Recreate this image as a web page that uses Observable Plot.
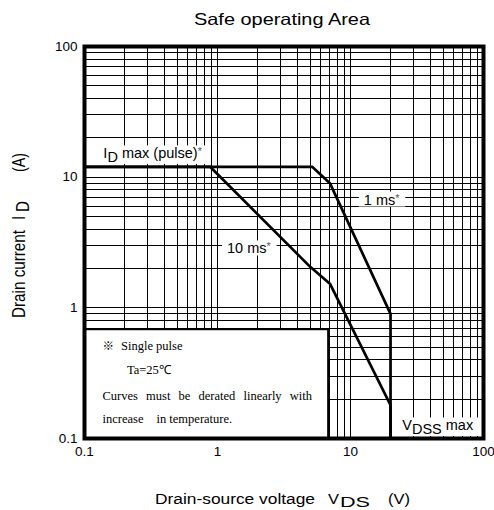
<!DOCTYPE html>
<html><head><meta charset="utf-8">
<script src="https://cdn.jsdelivr.net/npm/d3@7"></script>
<script src="https://cdn.jsdelivr.net/npm/@observablehq/plot@0.6"></script>
<style>body{margin:0;background:#fff} svg{display:block}</style>
</head><body><div id="chart"></div>
<script>
// ---- data ----
const gridDecades = [0.1, 1, 10];
const gridMultipliers = [1, 2, 3, 4, 5, 6, 7, 8, 9];
const tickValues = [0.1, 1, 10, 100];
const tickLabels = ["0.1", "1", "10", "100"];

// 1 ms curve (V, A)
const vds1ms = [0.1, 5.15, 7.0, 20, 20];
const id1ms = [12, 12, 9.0, 0.9, 0.1];
// 10 ms curve (V, A)
const vds10ms = [0.1, 0.88, 5.0, 7.0, 20, 20];
const id10ms = [12, 12, 2.05, 1.53, 0.18, 0.1];

// annotations (data coordinates)
const labelVds = [0.1386, 1.18, 12.6, 24.5];
const labelId = [15.1, 2.83, 6.70, 0.125];
const labelParts = [
  [["I"], ["D", "sub"], [" max (pulse)"], ["*", "ast"]],
  [["10 ms"], ["*", "ast"]],
  [["1 ms"], ["*", "ast"]],
  [["V"], ["DSS", "sub"], [" max"]]
];
const noteBox = [{x1: 0.1, x2: 6.85, y1: 0.1, y2: 0.68}];

// ---- build tables ----
const gridValues = gridDecades.flatMap(d => gridMultipliers.map(m => +(d * m).toPrecision(3)));
const series1ms = vds1ms.map((v, i) => ({vds: v, id: id1ms[i]}));
const series10ms = vds10ms.map((v, i) => ({vds: v, id: id10ms[i]}));
const labels = labelParts.map((p, i) => ({vds: labelVds[i], id: labelId[i], text: p.map(q => q[0]).join("")}));

const sans = "'Liberation Sans', Arial, Helvetica, sans-serif";
const serif = "'Liberation Serif', 'Times New Roman', serif";

const plot = Plot.plot({
  width: 494, height: 510,
  marginLeft: 84, marginRight: 11, marginTop: 46, marginBottom: 72,
  x: {type: "log", domain: [0.1, 100]},
  y: {type: "log", domain: [0.1, 100]},
  style: {fontFamily: sans, fontSize: "13.5px", background: "white", color: "black"},
  marks: [
    Plot.ruleX(gridValues, {stroke: "#000", strokeWidth: 1, shapeRendering: "crispEdges"}),
    Plot.ruleY(gridValues, {stroke: "#000", strokeWidth: 1, shapeRendering: "crispEdges"}),
    Plot.rect(noteBox, {x1: "x1", x2: "x2", y1: "y1", y2: "y2", fill: "white", stroke: "black", strokeWidth: 2}),
    Plot.line(series1ms, {x: "vds", y: "id", stroke: "black", strokeWidth: 2.7, strokeLinejoin: "miter"}),
    Plot.line(series10ms, {x: "vds", y: "id", stroke: "black", strokeWidth: 2.7, strokeLinejoin: "miter"}),
    Plot.text(labels, {x: "vds", y: "id", text: "text", textAnchor: "start", fontSize: 14.5, fill: "black", className: "sl-label"}),
    Plot.frame({stroke: "black", strokeWidth: 4}),
    Plot.axisX(tickValues, {tickSize: 0, tickPadding: 8, tickFormat: d => tickLabels[tickValues.indexOf(d)], label: null, fontSize: 13.5}),
    Plot.axisY(tickValues, {tickSize: 0, tickPadding: 7, tickFormat: d => tickLabels[tickValues.indexOf(d)], label: null, fontSize: 13.5})
  ]
});
document.getElementById("chart").append(plot);

const svg = d3.select(plot);
const xs = plot.scale("x"), ys = plot.scale("y");

// labels: subscripts, asterisks, white backgrounds
svg.selectAll("g.sl-label text").each(function(_, i) {
  const parts = labelParts[i];
  const t = d3.select(this);
  t.text(null);
  let shift = 0;
  parts.forEach(([s, kind]) => {
    const ts = t.append("tspan").text(s);
    const target = kind === "sub" ? 3.5 : kind === "ast" ? -3 : 0;
    if (target !== shift) { ts.attr("dy", target - shift); shift = target; }
    if (kind === "ast") ts.attr("font-size", "0.75em").attr("fill", "#555");
  });
});
svg.selectAll("g.sl-label text").each(function() {
  const b = this.getBBox();
  const r = document.createElementNS("http://www.w3.org/2000/svg", "rect");
  r.setAttribute("x", b.x - 5);
  r.setAttribute("y", b.y);
  r.setAttribute("width", b.width + 10);
  r.setAttribute("height", b.height - 1);
  r.setAttribute("fill", "white");
  r.setAttribute("stroke", "none");
  if (this.getAttribute("transform")) r.setAttribute("transform", this.getAttribute("transform"));
  this.parentNode.insertBefore(r, this);
});

// note text inside the box
const nx = xs.apply(0.1), ny = ys.apply(noteBox[0].y2);
const note = svg.append("g").attr("text-anchor", "start").attr("font-family", serif).attr("font-size", 12.5).attr("fill", "black");
note.append("text").attr("x", nx + 18.5).attr("y", ny + 21).attr("font-family", "'Noto Sans CJK JP', 'DejaVu Sans', sans-serif").attr("font-size", 11.5).text("※");
note.append("text").attr("x", nx + 37).attr("y", ny + 21).text("Single pulse");
note.append("text").attr("x", nx + 43).attr("y", ny + 45).text("Ta=25℃");
const jl = note.append("text").attr("x", nx + 18.5).attr("y", ny + 71).text("Curves must be derated linearly with");
{
  const natural = jl.node().getComputedTextLength();
  const target = 209.5;
  jl.attr("word-spacing", (target - natural) / 5);
}
note.append("text").attr("x", nx + 18.5).attr("y", ny + 94).text("increase");
note.append("text").attr("x", nx + 72.5).attr("y", ny + 94).text("in temperature.");

// titles
svg.append("text").attr("x", 282).attr("y", 25).attr("text-anchor", "middle")
  .attr("font-family", sans).attr("font-size", 16.5)
  .attr("textLength", 176).attr("lengthAdjust", "spacingAndGlyphs").text("Safe operating Area");

const xt = svg.append("g").attr("text-anchor", "start").attr("font-family", sans).attr("font-size", 15.5).attr("fill", "black");
xt.append("text").attr("x", 155).attr("y", 504).attr("textLength", 160).attr("lengthAdjust", "spacingAndGlyphs").text("Drain-source voltage");
xt.append("text").attr("x", 328).attr("y", 504).attr("textLength", 11).attr("lengthAdjust", "spacingAndGlyphs").text("V");
xt.append("text").attr("x", 340).attr("y", 507).attr("textLength", 30).attr("lengthAdjust", "spacingAndGlyphs").text("DS");
xt.append("text").attr("x", 388).attr("y", 504).attr("textLength", 22).attr("lengthAdjust", "spacingAndGlyphs").text("(V)");

const yt = svg.append("g").attr("transform", "translate(25,0) scale(1.25,1) rotate(-90)")
  .attr("text-anchor", "start").attr("font-family", sans).attr("font-size", 15).attr("fill", "black");
yt.append("text").attr("x", -318).attr("y", 0).attr("textLength", 88).attr("lengthAdjust", "spacingAndGlyphs").text("Drain current");
yt.append("text").attr("x", -220).attr("y", 0).text("I");
yt.append("text").attr("x", -212).attr("y", 3).attr("textLength", 11).attr("lengthAdjust", "spacingAndGlyphs").text("D");
yt.append("text").attr("x", -172).attr("y", 0).attr("textLength", 19).attr("lengthAdjust", "spacingAndGlyphs").text("(A)");
</script>
</body></html>
